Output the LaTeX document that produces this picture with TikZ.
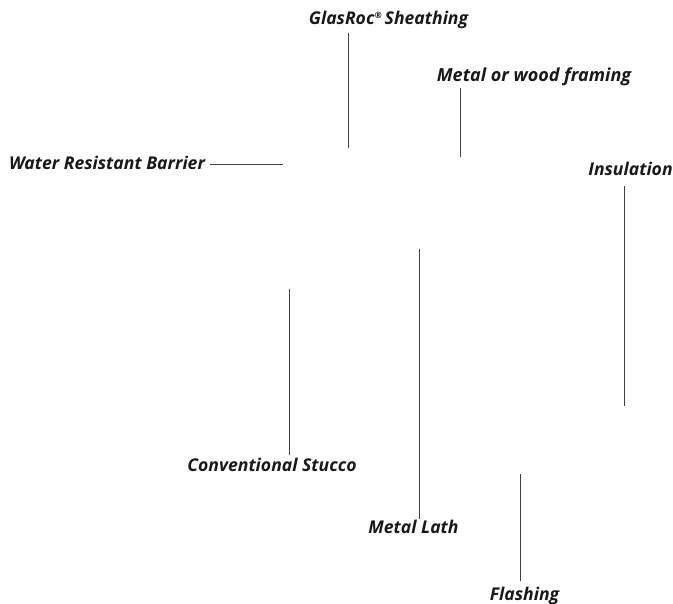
\documentclass[tikz,border=0pt]{standalone}
\usepackage{fontspec}
\setmainfont{Open Sans}
\tikzset{lbl/.style={font=\fontsize{13.2}{15}\selectfont\bfseries\itshape,inner sep=0pt,text=black!90,anchor=base},
leader/.style={draw=black!75,line width=0.6pt}}
\begin{document}
\begin{tikzpicture}[x=1pt,y=-1pt,scale=0.75]
\useasboundingbox[fill=white] (0,0) rectangle (673,603);
\node[lbl] (a) at (388.5,24.5) {GlasRoc\raisebox{0.35em}{\fontsize{6.5}{6.5}\selectfont\textregistered}\,Sheathing};
\node[lbl,font=\fontsize{13.5}{15}\selectfont\bfseries\itshape] (b) at (534,81.5) {Metal or wood framing};
\node[lbl] (c) at (107,169) {Water Resistant Barrier};
\node[lbl] (d) at (630.5,175.5) {Insulation};
\node[lbl] (e) at (272,471) {Conventional Stucco};
\node[lbl] (f) at (413.5,533) {Metal Lath};
\node[lbl] (g) at (524.5,600) {Flashing};
\coordinate (a1) at (348.7,148);\coordinate (a0) at (348.7,33);
\coordinate (b1) at (460,157);\coordinate (b0) at (460,88);
\coordinate (c0) at (210,164);\coordinate (c1) at (283,164);
\coordinate (d0) at (624.5,186);\coordinate (d1) at (624.5,406);
\coordinate (e0) at (289,454.5);\coordinate (e1) at (289,289);
\coordinate (f0) at (419,518.5);\coordinate (f1) at (419,249);
\coordinate (g0) at (520,581);\coordinate (g1) at (520,474);
\draw[leader] (a0)--(a1);\draw[leader] (b0)--(b1);\draw[leader] (c0)--(c1);\draw[leader] (d0)--(d1);\draw[leader] (e0)--(e1);\draw[leader] (f0)--(f1);\draw[leader] (g0)--(g1);
\end{tikzpicture}
\end{document}
